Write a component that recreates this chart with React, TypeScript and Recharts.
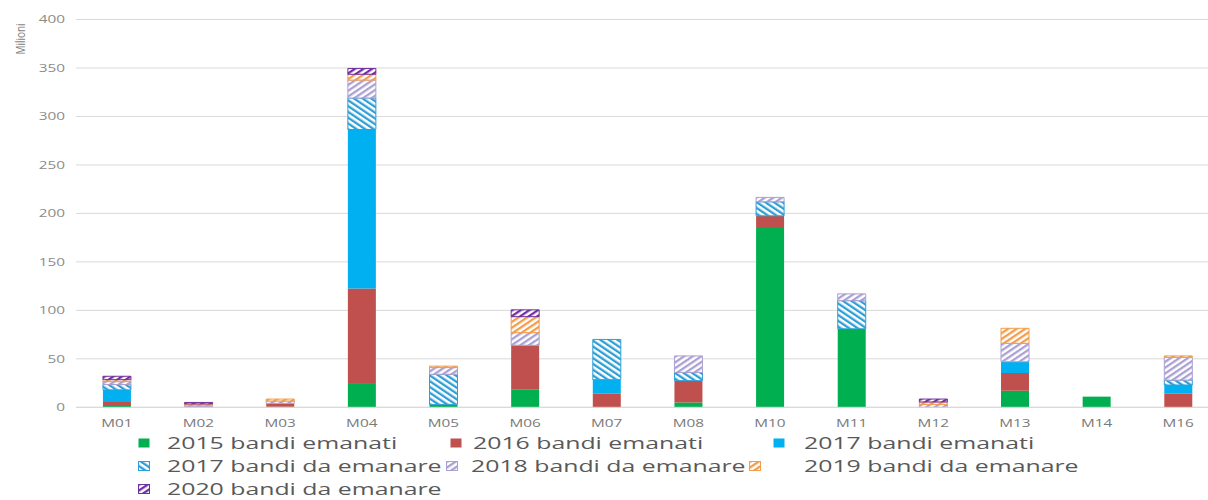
import React from 'react';
import { BarChart, Bar, XAxis, YAxis, CartesianGrid, Legend, Label } from 'recharts';

// ---- data ----
const categories = ['M01', 'M02', 'M03', 'M04', 'M05', 'M06', 'M07', 'M08', 'M10', 'M11', 'M12', 'M13', 'M14', 'M16'];
const emanati2015 = [2.5, 0, 0.5, 25, 3, 18, 0, 5, 186, 81, 0, 17, 11, 0];
const emanati2016 = [3, 1, 3.5, 97.5, 0, 46, 14, 22.5, 11.5, 0, 0, 18.5, 0, 14];
const emanati2017 = [12.5, 0, 0, 164, 0, 0, 14.5, 0, 0, 0, 0, 11.5, 0, 9];
const daEmanare2017 = [5.5, 0, 0, 32.5, 31, 0, 41.5, 8.5, 14.5, 29, 0, 0, 0, 5];
const daEmanare2018 = [3, 1.5, 2.5, 18.5, 7, 13, 0, 17, 4.5, 7, 3, 19, 0, 23.5];
const daEmanare2019 = [2, 1, 2, 6, 1.5, 16.5, 0, 0, 0, 0, 2.5, 15.5, 0, 1.5];
const daEmanare2020 = [3.5, 1.5, 0, 6, 0, 7, 0, 0, 0, 0, 3, 0, 0, 0];
const yTicks = [0, 50, 100, 150, 200, 250, 300, 350, 400];
const seriesNames = [
  '2015 bandi emanati',
  '2016 bandi emanati',
  '2017 bandi emanati',
  '2017 bandi da emanare',
  '2018 bandi da emanare',
  '2019 bandi da emanare',
  '2020 bandi da emanare',
];
const yAxisTitle = 'Milioni';

const seriesValues = [emanati2015, emanati2016, emanati2017, daEmanare2017, daEmanare2018, daEmanare2019, daEmanare2020];
const seriesKeys = ['e2015', 'e2016', 'e2017', 'd2017', 'd2018', 'd2019', 'd2020'];

const data = categories.map((cat, i) => {
  const row: Record<string, any> = { cat };
  seriesKeys.forEach((k, s) => {
    row[k] = seriesValues[s][i];
  });
  return row;
});

// ---- styles ----
type Pat = { id: string; color: string; angle: number } | null;
const seriesStyle: { fill: string; stroke: string; pattern: Pat }[] = [
  { fill: '#00B050', stroke: 'none', pattern: null },
  { fill: '#C0504D', stroke: 'none', pattern: null },
  { fill: '#00B0F0', stroke: 'none', pattern: null },
  { fill: 'url(#pat2017)', stroke: '#2E9FD6', pattern: { id: 'pat2017', color: '#2E9FD6', angle: -56 } },
  { fill: 'url(#pat2018)', stroke: '#ABA0D2', pattern: { id: 'pat2018', color: '#ABA0D2', angle: 56 } },
  { fill: 'url(#pat2019)', stroke: '#F39C4A', pattern: { id: 'pat2019', color: '#F39C4A', angle: 56 } },
  { fill: 'url(#pat2020)', stroke: '#7030A0', pattern: { id: 'pat2020', color: '#7030A0', angle: 56 } },
];

const STRETCH = 1.46;

// legend layout (page coordinates): [iconX, textX, rowCenterY]
const legendLayout = [
  [138, 167, 442.5],
  [450, 473, 442.5],
  [773, 804, 442.5],
  [138, 167, 466],
  [446, 471, 466],
  [749, 804, 466],
  [138, 167, 488.5],
];

const LegendBlock = () => (
  <div style={{ position: 'relative', width: 1208, height: 500 }}>
    {seriesNames.map((name, i) => {
      const [ix, tx, cy] = legendLayout[i];
      const st = seriesStyle[i];
      return (
        <React.Fragment key={name}>
          <svg width={12} height={10} style={{ position: 'absolute', left: ix, top: cy - 5, overflow: 'visible' }}>
            <rect
              x={0.5}
              y={0.5}
              width={11}
              height={9}
              fill={st.fill}
              stroke={st.pattern ? st.stroke : 'none'}
              strokeWidth={1}
            />
          </svg>
          <span
            style={{
              position: 'absolute',
              left: tx,
              top: cy - 9,
              height: 17,
              lineHeight: '17px',
              fontSize: 17,
              color: '#595959',
              whiteSpace: 'nowrap',
              fontFamily: '"Open Sans", sans-serif',
              transform: `scaleX(${STRETCH})`,
              transformOrigin: 'left center',
            }}
          >
            {name}
          </span>
        </React.Fragment>
      );
    })}
  </div>
);

const XTick = (props: any) => {
  const { x, y, payload } = props;
  return (
    <text
      transform={`translate(${x},${y + 7.5}) scale(${STRETCH},1)`}
      textAnchor="middle"
      fontSize={10.5}
      fill="#7a7a7a"
    >
      {payload.value}
    </text>
  );
};

const YTick = (props: any) => {
  const { x, y, payload } = props;
  return (
    <text
      transform={`translate(${x},${y + 3.7}) scale(${STRETCH},1)`}
      textAnchor="end"
      fontSize={10.5}
      fill="#8c8c8c"
    >
      {payload.value}
    </text>
  );
};

const MilioniLabel = () => (
  <text
    transform="translate(20,39) rotate(-90) scale(1,1.3)"
    textAnchor="middle"
    dominantBaseline="central"
    fontSize={10}
    fill="#7f7f7f"
  >
    {yAxisTitle}
  </text>
);

export default function App() {
  return (
    <div
      style={{
        position: 'absolute',
        left: 0,
        top: 0,
        width: 1208,
        height: 500,
        overflow: 'hidden',
        background: '#ffffff',
        fontFamily: '"Open Sans", sans-serif',
      }}
    >
      <BarChart
        width={1219}
        height={500}
        data={data}
        margin={{ top: 19.5, right: 0, bottom: 72.7, left: 0 }}
        barCategoryGap="33%"
      >
        <defs>
          {seriesStyle
            .filter((s) => s.pattern)
            .map((s) => (
              <pattern
                key={s.pattern!.id}
                id={s.pattern!.id}
                patternUnits="userSpaceOnUse"
                width={4.8}
                height={4.8}
                patternTransform={`rotate(${s.pattern!.angle})`}
              >
                <rect width={4.8} height={4.8} fill="#ffffff" />
                <rect width={2.3} height={4.8} fill={s.pattern!.color} />
              </pattern>
            ))}
        </defs>
        <CartesianGrid vertical={false} stroke="#d9d9d9" strokeWidth={1} />
        <XAxis
          dataKey="cat"
          height={20}
          axisLine={{ stroke: '#d9d9d9' }}
          tickLine={false}
          tickSize={0}
          tickMargin={12}
          interval={0}
          tick={XTick}
        />
        <YAxis
          width={76}
          domain={[0, 400]}
          ticks={yTicks}
          axisLine={false}
          tickLine={false}
          tickSize={0}
          tickMargin={11}
          tick={YTick}
        >
          <Label content={MilioniLabel} />
        </YAxis>
        <Legend
          layout="horizontal"
          verticalAlign="middle"
          align="center"
          wrapperStyle={{ position: 'absolute', left: 0, top: 0, width: 1208, height: 500, pointerEvents: 'none' }}
          content={() => <LegendBlock />}
        />
        {seriesKeys.map((k, i) => (
          <Bar
            key={k}
            dataKey={k}
            name={seriesNames[i]}
            stackId="a"
            fill={seriesStyle[i].fill}
            stroke={seriesStyle[i].stroke}
            strokeWidth={seriesStyle[i].pattern ? 1 : 0}
            isAnimationActive={false}
          />
        ))}
      </BarChart>
    </div>
  );
}
